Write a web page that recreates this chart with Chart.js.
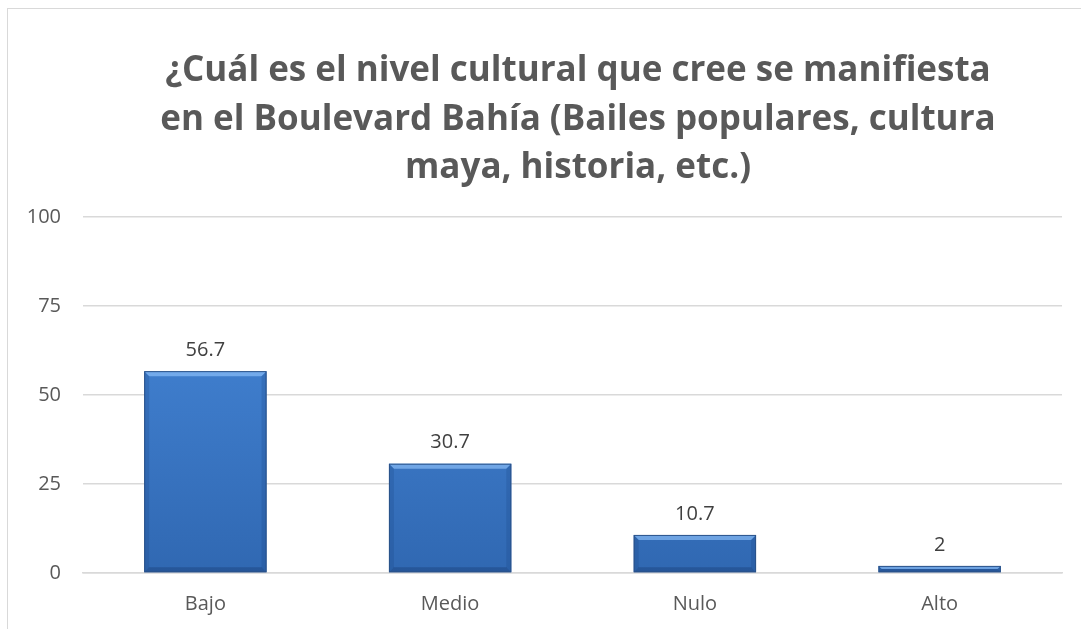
<!DOCTYPE html>
<html>
<head>
<meta charset="utf-8">
<script src="https://cdn.jsdelivr.net/npm/chart.js@4"></script>
<style>
  html, body { margin: 0; padding: 0; background: #fff; overflow: hidden; }
  #box { position: absolute; left: 7px; top: 8px; width: 1145px; height: 640px; border: 1px solid #d9d9d9; }
</style>
</head>
<body>
<div id="box"><canvas id="myChart" width="1145" height="640"></canvas></div>
<script>
var titleLines = ['¿Cuál es el nivel cultural que cree se manifiesta', 'en el Boulevard Bahía (Bailes populares, cultura', 'maya, historia, etc.)']
var categories = ['Bajo', 'Medio', 'Nulo', 'Alto']
var values = [56.7, 30.7, 10.7, 2]
var yTicks = [0, 25, 50, 75, 100]

var fontFamily = "'Open Sans', 'Noto Sans', sans-serif"

// title drawn by hand so it can sit a bit right of the plot centre like the original
var titlePlugin = {
    id: 'titleText',
    afterDraw: function (chart) {
        var ctx = chart.ctx
        ctx.save()
        ctx.fillStyle = '#595959'
        ctx.font = 'bold 35px ' + fontFamily
        ctx.textAlign = 'center'
        ctx.textBaseline = 'alphabetic'
        var baselines = [72, 121, 169]
        titleLines.forEach(function (line, i) {
            ctx.fillText(line, 570, baselines[i])
        })
        ctx.restore()
    }
}

// bevel look on the bars + value labels
var barPlugin = {
    id: 'barDeco',
    afterDatasetsDraw: function (chart) {
        var ctx = chart.ctx
        var meta = chart.getDatasetMeta(0)
        ctx.save()
        meta.data.forEach(function (bar, i) {
            var left = bar.x - bar.width / 2
            var right = bar.x + bar.width / 2
            var top = bar.y
            var bottom = bar.base
            var h = bottom - top
            var b = Math.min(5, h / 2)
            // top highlight
            ctx.fillStyle = 'rgba(150, 200, 255, 0.6)'
            ctx.beginPath()
            ctx.moveTo(left, top); ctx.lineTo(right, top)
            ctx.lineTo(right - b, top + b); ctx.lineTo(left + b, top + b)
            ctx.closePath(); ctx.fill()
            // sides
            ctx.fillStyle = 'rgba(20, 60, 120, 0.2)'
            ctx.beginPath()
            ctx.moveTo(left, top); ctx.lineTo(left + b, top + b)
            ctx.lineTo(left + b, bottom - b); ctx.lineTo(left, bottom)
            ctx.closePath(); ctx.fill()
            ctx.beginPath()
            ctx.moveTo(right, top); ctx.lineTo(right - b, top + b)
            ctx.lineTo(right - b, bottom - b); ctx.lineTo(right, bottom)
            ctx.closePath(); ctx.fill()
            // bottom
            ctx.fillStyle = 'rgba(15, 45, 95, 0.3)'
            ctx.beginPath()
            ctx.moveTo(left, bottom); ctx.lineTo(right, bottom)
            ctx.lineTo(right - b, bottom - b); ctx.lineTo(left + b, bottom - b)
            ctx.closePath(); ctx.fill()
            // outline
            ctx.strokeStyle = '#2a5289'
            ctx.lineWidth = 1
            ctx.strokeRect(left + 0.5, top + 0.5, right - left - 1, h - 1)
            // value label
            ctx.fillStyle = '#404040'
            ctx.font = '20px ' + fontFamily
            ctx.textAlign = 'center'
            ctx.textBaseline = 'bottom'
            ctx.fillText(values[i], bar.x, top - 11)
        })
        ctx.restore()
    }
}

var ctx = document.getElementById('myChart').getContext('2d')
var myChart = new Chart(ctx, {
    type: 'bar',
    data: {
        labels: categories,
        datasets: [{
            label: 'Nivel cultural',
            data: values,
            backgroundColor: function (context) {
                var area = context.chart.chartArea
                if (!area) return '#3a78c8'
                var g = context.chart.ctx.createLinearGradient(0, area.top, 0, area.bottom)
                g.addColorStop(0, '#4a8de0')
                g.addColorStop(1, '#3068b2')
                return g
            },
            borderWidth: 0,
            categoryPercentage: 1,
            barPercentage: 0.5
        }]
    },
    options: {
        responsive: false,
        animation: false,
        layout: {
            padding: { top: 208, right: 91, bottom: 22, left: 0 }
        },
        plugins: {
            legend: { display: false },
            title: { display: false },
            tooltip: { enabled: false }
        },
        scales: {
            x: {
                grid: { display: false },
                border: { color: '#d9d9d9', width: 1.5 },
                ticks: {
                    color: '#595959',
                    padding: 11,
                    font: { family: fontFamily, size: 20 }
                }
            },
            y: {
                min: 0,
                max: 100,
                afterFit: function (scale) { scale.width = 75 },
                afterBuildTicks: function (scale) {
                    scale.ticks = yTicks.map(function (v) { return { value: v } })
                },
                grid: { color: '#d9d9d9', lineWidth: 1.5, drawTicks: false },
                border: { display: false },
                ticks: {
                    color: '#595959',
                    padding: 22,
                    font: { family: fontFamily, size: 20 }
                }
            }
        }
    },
    plugins: [titlePlugin, barPlugin]
});
</script>
</body>
</html>
